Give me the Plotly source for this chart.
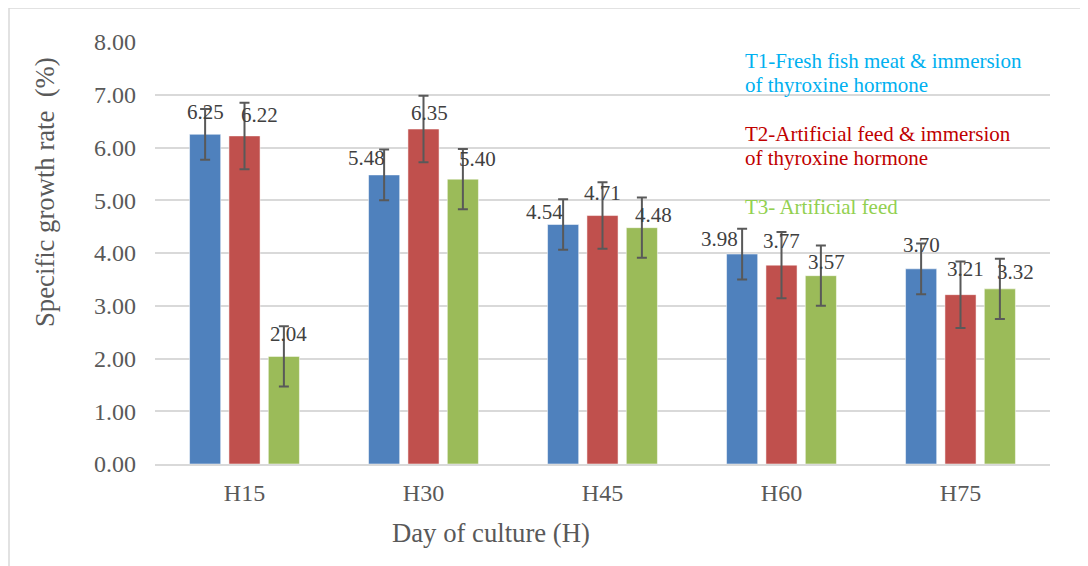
import plotly.graph_objects as go

categories = ["H15", "H30", "H45", "H60", "H75"]
t1_values = [6.25, 5.48, 4.54, 3.98, 3.70]
t2_values = [6.22, 6.35, 4.71, 3.77, 3.21]
t3_values = [2.04, 5.40, 4.48, 3.57, 3.32]
t1_err = [0.48, 0.48, 0.48, 0.48, 0.48]
t2_err = [0.63, 0.63, 0.63, 0.63, 0.63]
t3_err = [0.57, 0.57, 0.57, 0.57, 0.57]
series_names = ["T1-Fresh fish meat & immersion of thyroxine hormone",
                "T2-Artificial feed & immersion of thyroxine hormone",
                "T3- Artificial feed"]
y_ticks = [0, 1, 2, 3, 4, 5, 6, 7, 8]

# label placement offsets (pixels) as in the reference
label_dx = [[0, -18, -19, -23, 0], [15, 6, 0, 0, 5], [5, 15, 12, 6, 16]]
label_dy = [[22, 17, 13, 15, 24], [21, 16, 23, 24, 26], [22, 20, 13, 14, 17]]

FONT = "Liberation Serif"
bar_colors = ["#4F81BD", "#C0504D", "#9BBB59"]
text_colors = ["#00B0F0", "#C00000", "#92D050"]

OFF = 8  # page body margin
W, H = 1088, 566
L, R, T, B = 155 - OFF, 38 + OFF, 42 - OFF, 102 + OFF
pw, ph = W - L - R, H - T - B
bargap = 0.34

def px_x(p):
    return (p - OFF - L) / pw

def px_y(p):
    return (H - B - (p - OFF)) / ph

fig = go.Figure()
vals = [t1_values, t2_values, t3_values]
errs = [t1_err, t2_err, t3_err]
for k in range(3):
    fig.add_trace(go.Bar(
        x=categories, y=vals[k], name=series_names[k],
        marker=dict(color=bar_colors[k], line=dict(color="rgba(255,255,255,0.5)", width=1)),
        error_y=dict(type="data", array=errs[k], visible=True,
                     color="#595959", thickness=2, width=5),
        showlegend=False,
    ))

annotations = []
slot = (1 - bargap) / 3
for k in range(3):
    for i, v in enumerate(vals[k]):
        annotations.append(dict(
            x=i + (k - 1) * slot, y=v, xref="x", yref="y",
            text=f"{v:.2f}", showarrow=False,
            xanchor="center", yanchor="middle",
            xshift=label_dx[k][i], yshift=label_dy[k][i],
            font=dict(family=FONT, size=21, color="#404040"),
        ))

# legend-like texts
legend_lines = [
    ("T1-Fresh fish meat & immersion", 60.7, 0),
    ("of thyroxine hormone", 85.3, 0),
    ("T2-Artificial feed & immersion", 134, 1),
    ("of thyroxine hormone", 158.3, 1),
    ("T3- Artificial feed", 207, 2),
]
for txt, yp, k in legend_lines:
    annotations.append(dict(
        x=px_x(743), y=px_y(yp), xref="paper", yref="paper",
        text=txt, showarrow=False, xanchor="left", yanchor="middle",
        font=dict(family=FONT, size=21, color=text_colors[k]),
    ))

# axis titles
annotations.append(dict(
    x=px_x(491), y=px_y(533), xref="paper", yref="paper",
    text="Day of culture (H)", showarrow=False, xanchor="center", yanchor="middle",
    font=dict(family=FONT, size=26.7, color="#595959"),
))
annotations.append(dict(
    x=px_x(45), y=px_y(192), xref="paper", yref="paper",
    text="Specific growth rate\u00a0 (%)", showarrow=False, textangle=-90,
    xanchor="center", yanchor="middle",
    font=dict(family=FONT, size=26.7, color="#595959"),
))

shapes = [dict(
    type="rect", xref="paper", yref="paper",
    x0=px_x(9), x1=px_x(1110), y0=px_y(590), y1=px_y(8),
    line=dict(color="#D9D9D9", width=1.5), fillcolor="rgba(0,0,0,0)", layer="below",
)]

fig.update_layout(
    width=W, height=H,
    margin=dict(l=L, r=R, t=T, b=B, autoexpand=False),
    paper_bgcolor="white", plot_bgcolor="white",
    barmode="group", bargap=bargap, bargroupgap=0.21,
    font=dict(family=FONT, color="#595959"),
    annotations=annotations, shapes=shapes,
    xaxis=dict(
        type="category", showgrid=False, showline=True, linecolor="#D9D9D9", linewidth=1.5,
        ticks="", tickfont=dict(family=FONT, size=24, color="#595959"),
        ticklabelstandoff=6, range=[-0.5, 4.5],
    ),
    yaxis=dict(
        range=[0, 8], tickvals=y_ticks, tickformat=".2f",
        showgrid=True, gridcolor="#D9D9D9", gridwidth=1.5,
        zeroline=False, showline=False, ticks="",
        tickfont=dict(family=FONT, size=24, color="#595959"),
        ticklabelstandoff=18,
    ),
)

fig.write_html("out.html")
